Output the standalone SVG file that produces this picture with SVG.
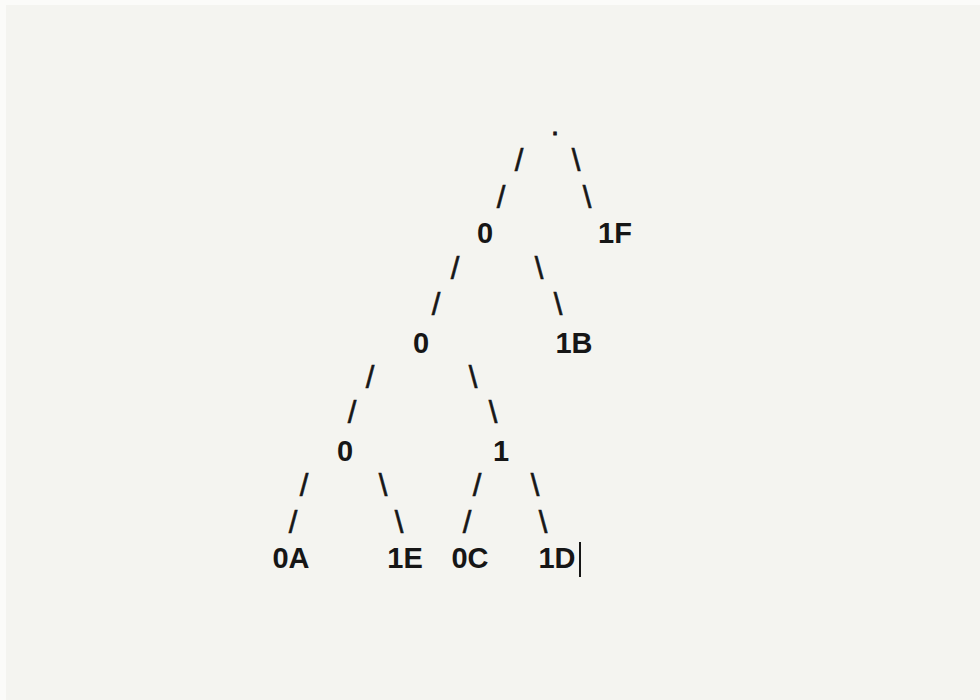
<svg xmlns="http://www.w3.org/2000/svg" width="980" height="700" viewBox="0 0 980 700">
  <style>
    .lbl { font-family: "Liberation Sans", Arial, sans-serif; font-size: 29px; font-weight: bold; fill: #161616; text-anchor: middle; }
    .sl { font-family: "Liberation Sans", Arial, sans-serif; font-size: 31px; fill: #161616; stroke: #161616; stroke-width: 0.6; text-anchor: middle; }
  </style>
  <rect x="0" y="0" width="980" height="700" fill="#f4f4f0"/>
  <rect x="0" y="0" width="980" height="5" fill="#fbfbf9"/>
  <rect x="0" y="0" width="6" height="700" fill="#fbfbf9"/>
  <g id="connectors">
    <text class="sl" x="519" y="171">/</text>
    <text class="sl" x="501" y="208">/</text>
    <text class="sl" x="576" y="171">\</text>
    <text class="sl" x="587" y="208">\</text>
    <text class="sl" x="455" y="279">/</text>
    <text class="sl" x="436" y="315">/</text>
    <text class="sl" x="539" y="279">\</text>
    <text class="sl" x="558" y="315">\</text>
    <text class="sl" x="370" y="388">/</text>
    <text class="sl" x="352" y="423">/</text>
    <text class="sl" x="473" y="388">\</text>
    <text class="sl" x="493" y="423">\</text>
    <text class="sl" x="304" y="496">/</text>
    <text class="sl" x="293" y="533">/</text>
    <text class="sl" x="383" y="496">\</text>
    <text class="sl" x="399" y="533">\</text>
    <text class="sl" x="477" y="496">/</text>
    <text class="sl" x="467" y="533">/</text>
    <text class="sl" x="535" y="496">\</text>
    <text class="sl" x="543" y="533">\</text>
  </g>
  <g id="root"><text class="lbl" x="555" y="135" style="font-weight:normal;stroke:#161616;stroke-width:0.8">.</text></g>
  <g id="n0"><text class="lbl" x="485" y="243">0</text></g>
  <g id="n1F"><text class="lbl" x="615" y="243">1F</text></g>
  <g id="n00"><text class="lbl" x="421" y="353">0</text></g>
  <g id="n1B"><text class="lbl" x="574" y="353">1B</text></g>
  <g id="n000"><text class="lbl" x="345" y="461">0</text></g>
  <g id="n001"><text class="lbl" x="501" y="461">1</text></g>
  <g id="n0A"><text class="lbl" x="291" y="568">0A</text></g>
  <g id="n1E"><text class="lbl" x="405" y="568">1E</text></g>
  <g id="n0C"><text class="lbl" x="470" y="568">0C</text></g>
  <g id="n1D"><text class="lbl" x="557" y="568">1D</text></g>
  <g id="cursor"><rect x="579" y="542" width="2" height="35" fill="#161616"/></g>
</svg>
